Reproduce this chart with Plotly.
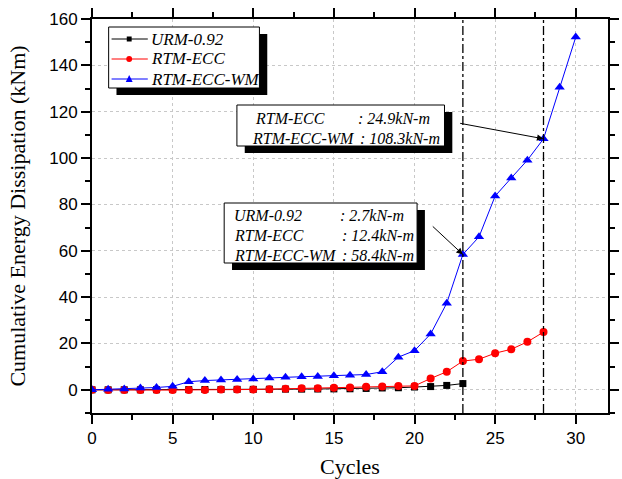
import plotly.graph_objects as go

cycles_urm = list(range(0, 24))
urm = [0, 0, 0, 0, 0.05, 0.1, 0.1, 0.15, 0.15, 0.2, 0.2, 0.25, 0.3, 0.3, 0.35, 0.4,
       0.45, 0.6, 0.8, 0.9, 1.2, 1.4, 1.9, 2.7]
cycles_ecc = list(range(0, 29))
ecc = [0, -0.1, -0.1, -0.1, -0.1, -0.1, -0.1, -0.05, 0.1, 0.15, 0.15, 0.3, 0.45, 0.7, 0.7,
       0.85, 1.0, 1.3, 1.4, 1.6, 1.7, 4.9, 7.8, 12.4, 13.2, 15.8, 17.5, 20.7, 24.9]
cycles_wm = list(range(0, 31))
wm = [0, 0.2, 0.4, 0.8, 1.0, 1.5, 3.5, 4.0, 4.2, 4.5, 4.7, 5.1, 5.4, 5.6, 5.8, 6.1,
      6.3, 6.6, 7.8, 14.1, 16.9, 24.1, 37.4, 58.4, 66.0, 83.6, 91.4, 99.1, 108.3, 130.6, 152.2]

series_names = ["URM-0.92", "RTM-ECC", "RTM-ECC-WM"]
series_colors = ["black", "red", "blue"]
series_symbols = ["square", "circle", "triangle-up"]
vlines = [23, 28]

W, H = 622, 479
L, R, T, B = 92, 3, 19, 66
PW, PH = W - L - R, H - T - B


def xp(px):
    return (px - L) / PW


def yp(py):
    return (H - B - py) / PH


serif = "Liberation Serif"
sans = "Liberation Sans"

fig = go.Figure()
for xs, ys, nm, col, sym, sz in zip([cycles_urm, cycles_ecc, cycles_wm], [urm, ecc, wm],
                                    series_names, series_colors, series_symbols, [7, 8, 9]):
    fig.add_trace(go.Scatter(x=xs, y=ys, name=nm, mode="lines+markers",
                             line=dict(color=col, width=1),
                             marker=dict(symbol=sym, size=sz, color=col), showlegend=False))

shapes = []
for v in vlines:
    shapes.append(dict(type="line", xref="x", yref="paper", x0=v, x1=v, y0=0, y1=1,
                       line=dict(color="black", width=1.3, dash="dashdot"), layer="above"))

# boxes with shadows: legend, two annotation boxes
for (x0, y0, x1, y1, dx, dy) in [(109, 27, 263, 88, 8, 7), (240, 105, 452, 146, 8, 7),
                                 (227, 203, 424, 263, 8, 7)]:
    shapes.append(dict(type="rect", xref="paper", yref="paper", x0=xp(x0 + dx), x1=xp(x1 + dx),
                       y0=yp(y1 + dy), y1=yp(y0 + dy), fillcolor="black", line=dict(width=0),
                       layer="above"))
    shapes.append(dict(type="rect", xref="paper", yref="paper", x0=xp(x0), x1=xp(x1),
                       y0=yp(y1), y1=yp(y0), fillcolor="white",
                       line=dict(color="black", width=1), layer="above"))

annotations = []
lfont = dict(family=serif, size=17, color="black", style="italic")

# legend entries (line - marker - line, then text)
for i, (nm, col, sym) in enumerate(zip(series_names, series_colors, series_symbols)):
    cy = 39 + 20 * i
    shapes.append(dict(type="line", xref="paper", yref="paper", x0=xp(112), x1=xp(149),
                       y0=yp(cy), y1=yp(cy), line=dict(color=col, width=1), layer="above"))
    if sym == "square":
        shapes.append(dict(type="rect", xref="paper", yref="paper", x0=xp(127.5), x1=xp(132.5),
                           y0=yp(cy + 2.5), y1=yp(cy - 2.5), fillcolor=col,
                           line=dict(width=0), layer="above"))
    elif sym == "circle":
        shapes.append(dict(type="circle", xref="paper", yref="paper", x0=xp(127), x1=xp(133),
                           y0=yp(cy + 3), y1=yp(cy - 3), fillcolor=col,
                           line=dict(width=0), layer="above"))
    else:
        path = "M {} {} L {} {} L {} {} Z".format(xp(126.5), yp(cy + 3), xp(133.5), yp(cy + 3),
                                                  xp(130), yp(cy - 4))
        shapes.append(dict(type="path", xref="paper", yref="paper", path=path, fillcolor=col,
                           line=dict(width=0), layer="above"))
    annotations.append(dict(xref="paper", yref="paper", x=xp(150), y=yp(cy), text=nm,
                            showarrow=False, xanchor="left", yanchor="middle", font=lfont))

afont = dict(family=serif, size=16, color="black", style="italic")
texts = [
    (256, 118, "RTM-ECC", 362, ": 24.9kN-m"),
    (253, 138, "RTM-ECC-WM", 364, ": 108.3kN-m"),
    (235, 215, "URM-0.92", 343, ": 2.7kN-m"),
    (235, 235, "RTM-ECC", 345, ": 12.4kN-m"),
    (235, 255, "RTM-ECC-WM", 345, ": 58.4kN-m"),
]
for (lx, yy, lt, rx, rt) in texts:
    annotations.append(dict(xref="paper", yref="paper", x=xp(lx), y=yp(yy), text=lt,
                            showarrow=False, xanchor="left", yanchor="middle", font=afont))
    annotations.append(dict(xref="paper", yref="paper", x=xp(rx), y=yp(yy), text=rt,
                            showarrow=False, xanchor="left", yanchor="middle", font=afont))

# arrows
annotations.append(dict(x=23, y=58.4, ax=21.04, ay=71.1, axref="x", ayref="y", xref="x", yref="y",
                        text="", showarrow=True, arrowhead=2, arrowsize=1.3, arrowwidth=1,
                        arrowcolor="black"))
annotations.append(dict(x=28, y=108.3, ax=22.74, ay=115.1, axref="x", ayref="y", xref="x",
                        yref="y", text="", showarrow=True, arrowhead=2, arrowsize=1.3,
                        arrowwidth=1, arrowcolor="black"))

axis_common = dict(
    showline=True, linecolor="black", linewidth=2, mirror="allticks",
    ticks="outside", ticklen=9, tickwidth=1.5, tickcolor="black",
    showgrid=True, gridcolor="#c8c8c8", griddash="dot", gridwidth=1,
    zeroline=False, tickfont=dict(family=sans, size=17, color="black"),
)

fig.update_layout(
    width=W, height=H,
    margin=dict(l=L, r=R, t=T, b=B),
    paper_bgcolor="white", plot_bgcolor="white",
    shapes=shapes, annotations=annotations,
    xaxis=dict(range=[0, 32], tickvals=[0, 5, 10, 15, 20, 25, 30],
               minor=dict(dtick=2.5, tick0=0, ticks="outside", ticklen=5, tickcolor="black",
                          tickwidth=1.5, showgrid=False),
               title=dict(text="Cycles", font=dict(family=serif, size=22, color="black"),
                          standoff=12),
               **axis_common),
    yaxis=dict(range=[-10, 160], tickvals=list(range(0, 161, 20)),
               minor=dict(dtick=10, tick0=0, ticks="outside", ticklen=5, tickcolor="black",
                          tickwidth=1.5, showgrid=False),
               title=dict(text="Cumulative Energy Dissipation (kNm)",
                          font=dict(family=serif, size=22, color="black"), standoff=18),
               **axis_common),
    showlegend=False,
)

fig.write_html("out.html")
